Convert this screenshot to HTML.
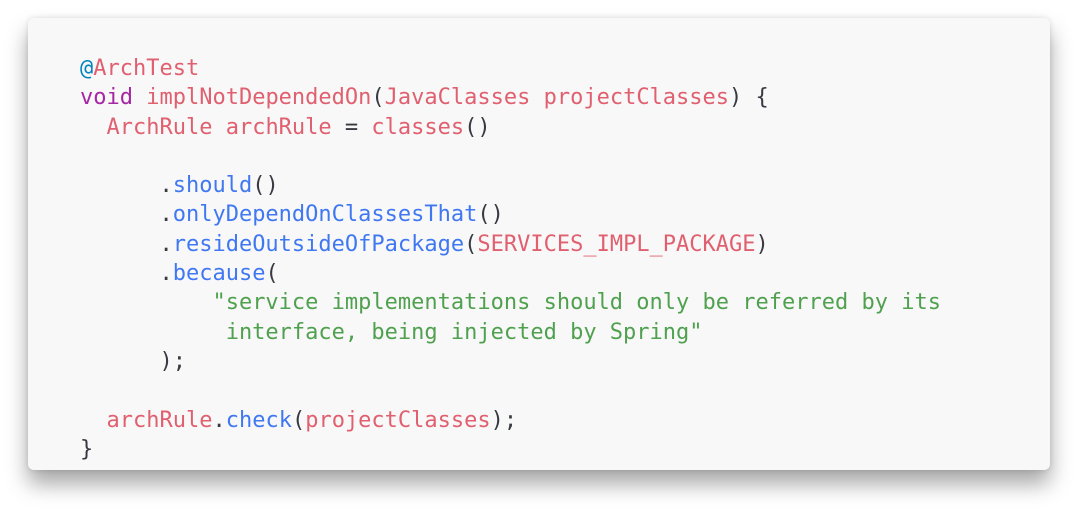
<!DOCTYPE html>
<html><head><meta charset="utf-8"><style>
html,body{margin:0;padding:0;background:#fff;width:1090px;height:521px;overflow:hidden}
.card{position:absolute;left:28px;top:18px;width:1022px;height:452px;background:#f8f8f8;border-radius:6px;box-shadow:0 14px 22px rgba(0,0,0,0.35),0 0 6px rgba(0,0,0,0.12)}
pre{position:absolute;left:80px;top:54px;margin:0;font-family:"DejaVu Sans Mono","Liberation Mono",monospace;font-size:22px;line-height:29.3px;color:#383a42}
.t{color:#0184bc}.p{color:#a626a4}.b{color:#4078f2}.g{color:#50a14f}
.r{color:#e06070}
</style></head><body>
<div class="card"></div>
<pre><span class="t">@</span><span class="r">ArchTest</span>
<span class="p">void</span> <span class="r">implNotDependedOn</span>(<span class="r">JavaClasses projectClasses</span>) {
  <span class="r">ArchRule archRule</span> = <span class="r">classes</span>()

      .<span class="b">should</span>()
      .<span class="b">onlyDependOnClassesThat</span>()
      .<span class="b">resideOutsideOfPackage</span>(<span class="r">SERVICES_IMPL_PACKAGE</span>)
      .<span class="b">because</span>(
          <span class="g">"service implementations should only be referred by its</span>
<span class="g">           interface, being injected by Spring"</span>
      );

  <span class="r">archRule</span>.<span class="b">check</span>(<span class="r">projectClasses</span>);
}</pre>
</body></html>
